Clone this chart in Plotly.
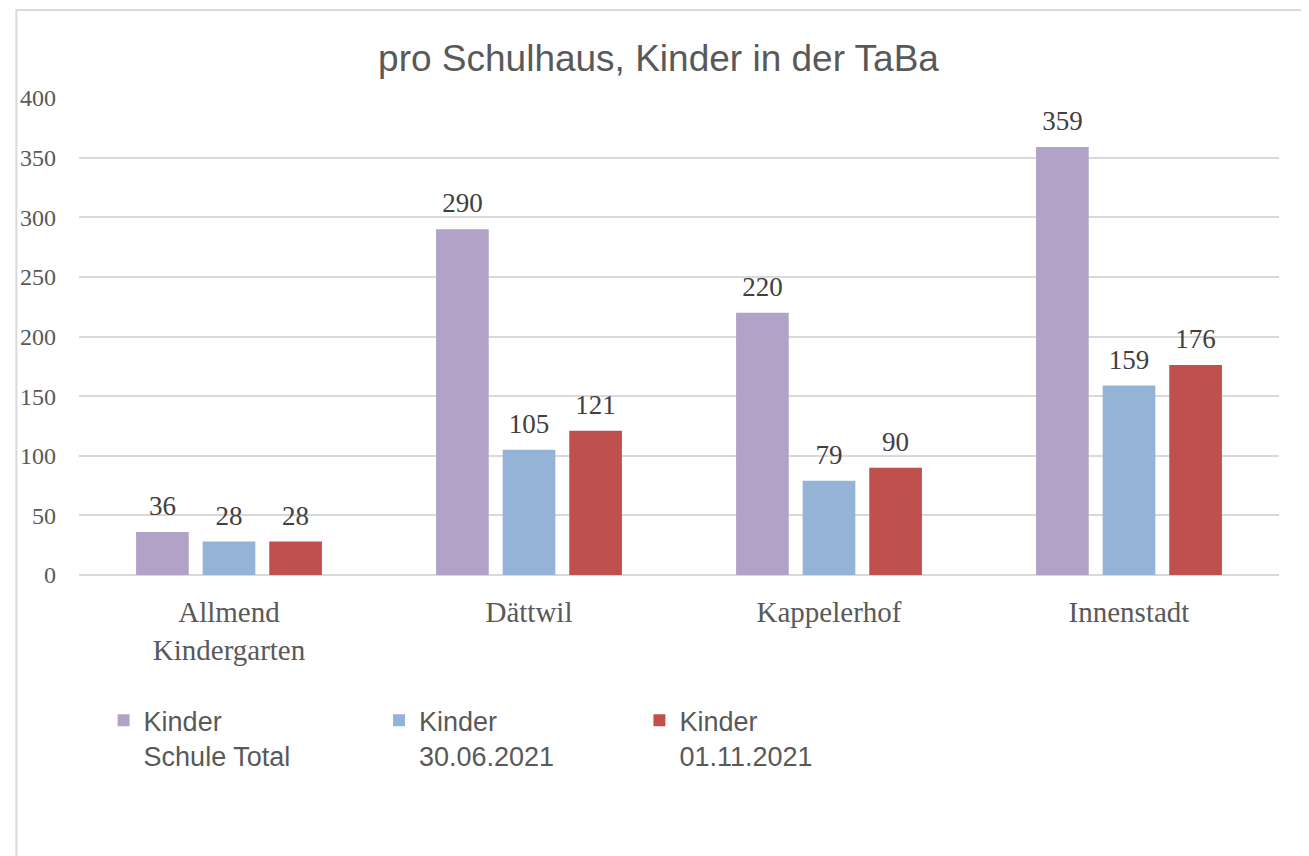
import plotly.graph_objects as go

categories = ["Allmend<br>Kindergarten", "Dättwil", "Kappelerhof", "Innenstadt"]
series_names = ["Kinder<br>Schule Total", "Kinder<br>30.06.2021", "Kinder<br>01.11.2021"]
total = [36, 290, 220, 359]
jun2021 = [28, 105, 79, 159]
nov2021 = [28, 121, 90, 176]
colors = ["#B3A2C7", "#95B3D7", "#C0504D"]
y_ticks = [0, 50, 100, 150, 200, 250, 300, 350, 400]

legend_names = ["legend", "legend2", "legend3"]
legend_x = [0.0205, 0.25, 0.467]

fig = go.Figure()
for name, vals, col, lg in zip(series_names, [total, jun2021, nov2021], colors, legend_names):
    fig.add_trace(go.Bar(
        x=categories, y=vals, name=name, legend=lg,
        marker=dict(color=col, line=dict(width=0)),
        text=vals,
        texttemplate="<span style='font-size:27px'>%{text}</span><br> ",
        textposition="outside",
        cliponaxis=False,
        textfont=dict(family="Liberation Serif", size=9, color="#404040"),
    ))

legend_common = dict(orientation="v", xanchor="left", y=-0.254, yanchor="top",
                     valign="top", bgcolor="rgba(0,0,0,0)",
                     font=dict(family="Liberation Sans", size=27, color="#595959"))

fig.update_layout(
    width=1301, height=848,
    paper_bgcolor="white", plot_bgcolor="white",
    margin=dict(l=64, r=30, t=90, b=281),
    barmode="group", bargap=0.334, bargroupgap=0.209,
    title=dict(text="pro Schulhaus, Kinder in der TaBa", x=0.5, xanchor="center",
               xref="container",
               y=1 - 50 / 848, yanchor="middle",
               font=dict(family="Liberation Sans", size=37, color="#595959")),
    showlegend=True,
    legend=dict(x=legend_x[0], **legend_common),
    legend2=dict(x=legend_x[1], **legend_common),
    legend3=dict(x=legend_x[2], **legend_common),
    xaxis=dict(showgrid=False, showline=False, ticks="",
               tickfont=dict(family="Liberation Serif", size=29, color="#595959"),
               ticklabelstandoff=17),
    yaxis=dict(range=[0, 400], tickvals=y_ticks, showgrid=True, gridcolor="#D9D9D9",
               gridwidth=2, zeroline=True, zerolinecolor="#D9D9D9", zerolinewidth=2,
               showline=False, ticks="",
               tickfont=dict(family="Liberation Serif", size=24, color="#595959"),
               ticklabelstandoff=22),
    shapes=[dict(type="rect", xref="paper", yref="paper",
                 x0=-0.0522, x1=1.0199, y0=-0.75, y1=1.1845,
                 line=dict(color="#D9D9D9", width=2), fillcolor="rgba(0,0,0,0)",
                 layer="below")],
)

fig.write_html("out.html")
